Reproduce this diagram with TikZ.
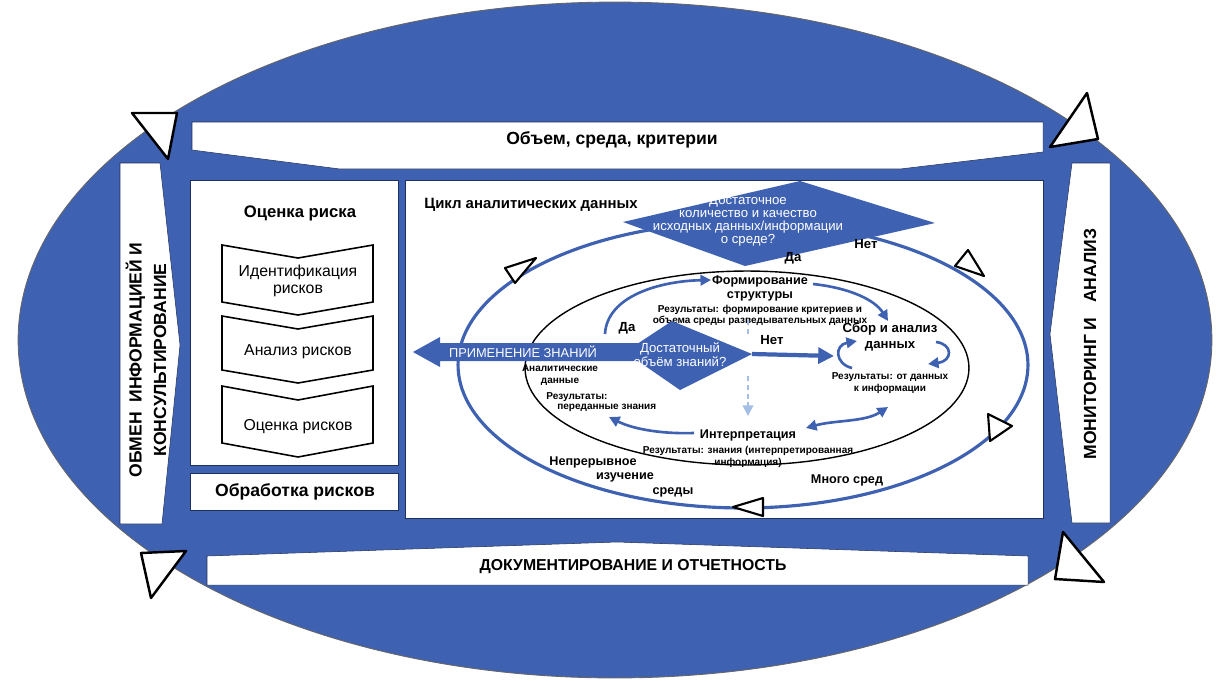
\documentclass[tikz,border=0pt]{standalone}
\usepackage{fontspec}
\setmainfont{Liberation Sans}
\usetikzlibrary{arrows.meta,positioning}

\definecolor{riskblue}{RGB}{62,97,178}
\definecolor{fadeblue}{RGB}{165,190,232}

\begin{document}
\begin{tikzpicture}[
        x = 0.02cm, y = -0.02cm, % pixel grid of the drawing
        > = {Triangle[length=6pt,width=6pt]}, % arrow head style
        node distance = 2pt,
        every node/.style = {inner sep=0pt},
        band/.style = {fill=white, draw=riskblue!50!black, line width=0.3pt},
        chevron/.style = {fill=white, draw=black, line width=0.9pt},
        pointer/.style = {fill=white, draw=black, line width=1.4pt, line join=round},
        cycleline/.style = {riskblue, line width=1.8pt},
        flow/.style = {riskblue, line width=1.5pt, ->},
        hint/.style = {fadeblue, line width=0.9pt, densely dashed, ->},
        bandtext/.style = {font=\bfseries\fontsize{10}{14}\selectfont, align=center},
        steptext/.style = {font=\fontsize{9}{10}\selectfont, align=center},
        headtext/.style = {font=\bfseries\fontsize{9.5}{11}\selectfont},
        stagetext/.style = {font=\bfseries\fontsize{7.2}{8}\selectfont, align=center},
        resulttext/.style = {font=\bfseries\fontsize{5.7}{6.6}\selectfont, align=center},
        asktext/.style = {text=white, font=\fontsize{7.5}{7.3}\selectfont, align=center},
        yesno/.style = {font=\bfseries\fontsize{7.5}{8}\selectfont}
    ]

    \useasboundingbox (0,0) rectangle (1226,680);

    % outer management frame
    \filldraw[fill=riskblue, draw=black!60, line width=0.5pt] (615,340) ellipse [x radius=11.94cm, y radius=6.76cm];
    \filldraw[pointer] (132,113) -- (177,113) -- (168,159) -- cycle;
    \filldraw[pointer] (1087,93) -- (1098,139) -- (1050,147) -- cycle;
    \filldraw[pointer] (141,553) -- (186,551) -- (151,598) -- cycle;
    \filldraw[pointer] (1063,532) -- (1104,582) -- (1055,579) -- cycle;

    \filldraw[band] (192,122) -- (1043,122) -- (1043,152) -- (900,169) -- (340,169) -- (192,150) -- cycle;
    \filldraw[band] (207,556) -- (617,542) -- (1028,556) -- (1028,585) -- (207,585) -- cycle;
    \filldraw[band] (120,163) -- (160,163) -- (180,345) -- (162,524) -- (120,524) -- cycle;
    \filldraw[band] (1072,163) -- (1110,163) -- (1110,523) -- (1072,523) -- (1050,334) -- cycle;

    \node[bandtext] (context) at (612,140) {Объем, среда, критерии};
    \node[bandtext, font=\bfseries\fontsize{9}{11}\selectfont] (report) at (633,567) {ДОКУМЕНТИРОВАНИЕ И ОТЧЕТНОСТЬ};
    \node[bandtext, rotate=90] (consult) at (146,360) {ОБМЕН\ \ ИНФОРМАЦИЕЙ И\\КОНСУЛЬТИРОВАНИЕ};
    \node[bandtext, rotate=90] (monitor) at (1090,344) {МОНИТОРИНГ И\ \ \ АНАЛИЗ};

    % risk assessment column
    \filldraw[band] (190,180) rectangle (398,465);
    \filldraw[band] (190,473) rectangle (398,510);
    \node[headtext] (assess) at (300,213) {Оценка риска};
    \filldraw[chevron] (222,245) -- (298,258) -- (373,245) -- (373,302) -- (298,315) -- (222,302) -- cycle;
    \filldraw[chevron] (222,316) -- (298,329) -- (373,316) -- (373,370) -- (298,383) -- (222,370) -- cycle;
    \filldraw[chevron] (222,386) -- (298,400) -- (373,386) -- (373,443) -- (298,457) -- (222,443) -- cycle;
    \node[steptext] (identify) at (298,281) {Идентификация\\рисков};
    \node[steptext] (analyse) at (298,352) {Анализ рисков};
    \node[steptext] (evaluate) at (298,427) {Оценка рисков};
    \node[headtext, font=\bfseries\fontsize{10}{11}\selectfont] (treat) at (295,492) {Обработка рисков};

    % analytical data cycle
    \filldraw[band] (405,180) rectangle (1043,518);
    \node[headtext, font=\bfseries\fontsize{8.5}{10}\selectfont] (cyclehead) at (531,205) {Цикл аналитических данных};
    \draw[cycleline] (743,365) ellipse [x radius=5.7cm, y radius=2.86cm];
    \draw[black, line width=0.8pt] (747,368) ellipse [x radius=4.44cm, y radius=1.94cm];
    \fill[riskblue] (623,222) -- (800,181) -- (935,223) -- (745,266) -- cycle;
    \node[asktext] (source) at (748,221) {Достаточное\\количество и качество\\исходных данных/информации\\о среде?};
    \node[yesno] (yes1) at (793,258) {Да};
    \node[yesno] (no1) at (866,244) {Нет};
    \filldraw[pointer, line width=1.2pt] (505,268) -- (515,283) -- (536,258) -- cycle;
    \filldraw[pointer, line width=1.2pt] (955,266) -- (968,250) -- (984,276) -- cycle;
    \filldraw[pointer, line width=1.2pt] (988,414) -- (1012,426) -- (990,441) -- cycle;
    \filldraw[pointer, line width=1.2pt] (733,507) -- (763,498) -- (763,516) -- cycle;
    \node[stagetext] (study1) at (593,462) {Непрерывное};
    \node[stagetext] (study2) at (625,477) {изучение};
    \node[stagetext] (study3) at (673,492) {среды};
    \node[stagetext] (many) at (847,480) {Много сред};

    % stages of the inner cycle
    \node[stagetext] (frame) at (760,288) {Формирование\\структуры};
    \node[resulttext, below=of frame] (frameres) {Результаты: формирование критериев и\\объема среды разведывательных данных};
    \node[stagetext, font=\bfseries\fontsize{7.5}{9}\selectfont] (collect) at (890,337) {Сбор и анализ\\данных};
    \node[resulttext, below=12pt of collect] (collectres) {Результаты: от данных\\к информации};
    \node[stagetext] (interp) at (748,435) {Интерпретация};
    \node[resulttext, below=3pt of interp] (interpres) {Результаты: знания (интерпретированная\\информация)};
    \node[resulttext] (analytic) at (560,375) {Аналитические\\данные};
    \node[resulttext, anchor=west] (applyres) at (546,397) {Результаты:};
    \node[resulttext, anchor=west] (applyres2) at (557,408) {переданные знания};

    % knowledge decision
    \fill[riskblue] (440,343) -- (640,343) -- (640,361) -- (440,361) -- (440,367) -- (413,352) -- (440,337) -- cycle;
    \node[asktext, font=\fontsize{7.3}{7.8}\selectfont] (apply) at (523,352) {ПРИМЕНЕНИЕ ЗНАНИЙ};
    \fill[riskblue] (625,352) -- (672,321) -- (752,354) -- (680,390) -- cycle;
    \node[asktext, font=\fontsize{7.5}{8}\selectfont] (enough) at (680,355) {Достаточный\\объём знаний?};
    \node[yesno] (yes2) at (627,328) {Да};
    \node[yesno] (no2) at (772,340) {Нет};

    \coordinate (yesroot) at (605,334);
    \coordinate (yestip) at (711,280);
    \coordinate (frameout) at (813,284);
    \coordinate (collectin) at (888,321);
    \coordinate (noroot) at (752,354);
    \coordinate (notip) at (834,356);
    \coordinate (curlin) at (852,368);
    \coordinate (curlout) at (857,341);
    \coordinate (turnin) at (936,342);
    \coordinate (turnout) at (928,364);
    \coordinate (backleft) at (806,428);
    \coordinate (backright) at (888,407);
    \coordinate (interpout) at (694,433);
    \coordinate (applyin) at (609,417);

    \draw[flow] (yesroot) .. controls (607,296) and (660,281) .. (yestip);
    \draw[flow] (frameout) .. controls (850,288) and (875,300) .. (collectin);
    \draw[flow, line width=2.4pt, -{Triangle[length=9pt,width=9pt]}] (noroot) -- (notip);
    \draw[flow] (curlin) .. controls (835,364) and (834,345) .. (curlout);
    \draw[flow] (turnin) .. controls (953,344) and (953,361) .. (turnout);
    \draw[flow, <->] (backleft) .. controls (835,420) and (865,422) .. (backright);
    \draw[flow] (interpout) .. controls (665,434) and (635,430) .. (applyin);
    \draw[hint] (748,376) -- (748,416);
    \draw[hint, -] (748,320) -- (748,334);

\end{tikzpicture}
\end{document}
